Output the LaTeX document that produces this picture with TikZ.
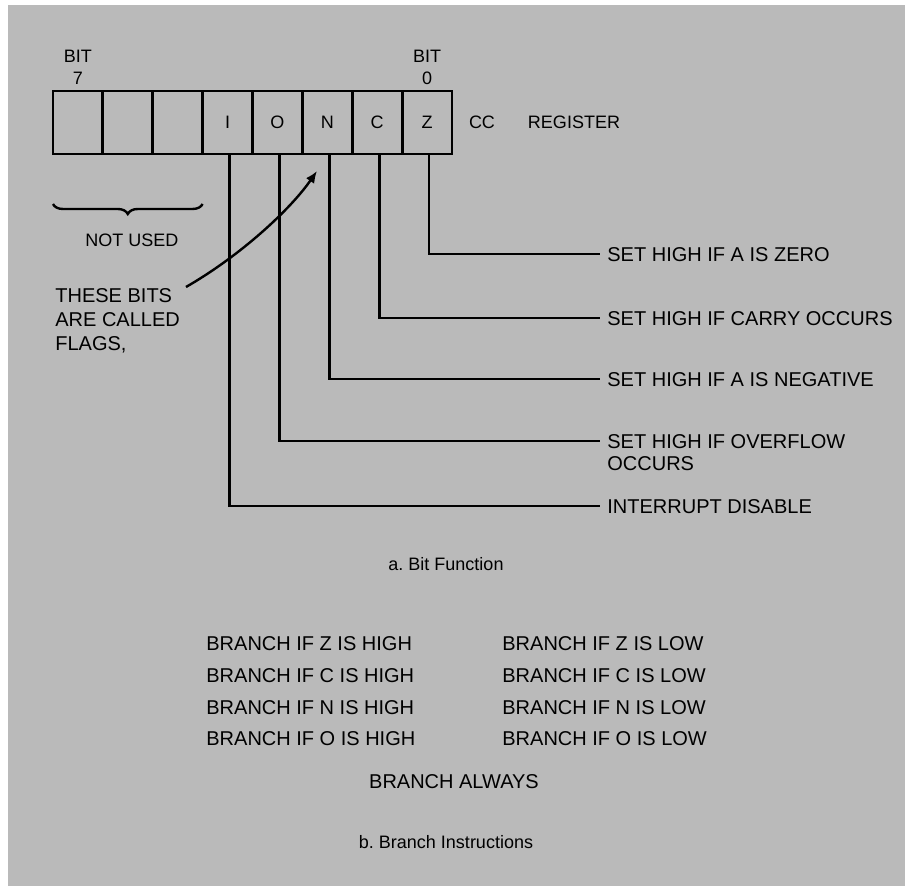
\documentclass[tikz,border=0pt]{standalone}
\usepackage{fontspec}
\setmainfont{Liberation Sans}
\usepackage{tikz}
\usetikzlibrary{arrows.meta,positioning,decorations.pathreplacing}
\usepackage{xcolor}
\definecolor{paper}{gray}{0.73}

\begin{document}
\begin{tikzpicture}[
  x=0.5pt,y=-0.5pt,
  cell/.style={draw,line width=1.4pt,minimum width=24.94pt,minimum height=31.5pt,inner sep=0pt,outer sep=0pt,font=\small},
  small/.style={font=\small,inner sep=2pt},
  lbl/.style={anchor=west,inner sep=3.5pt,text height=7.2pt,text depth=0pt},
  flag/.style={line width=1.4pt},
  brc/.style={decorate,decoration={brace,mirror,amplitude=5pt},line width=1.2pt},
  arr/.style={-{Latex[length=6pt,width=5pt]},line width=1.2pt}
]
\useasboundingbox (0,0) rectangle (907,886);
\fill[paper] (8,5) rectangle (905,886);

% the CC register
\node[cell] (c7) at (77.9,122.5) {};
\node[cell,right=0pt of c7] (c6) {};
\node[cell,right=0pt of c6] (c5) {};
\node[cell,right=0pt of c5] (cI) {I};
\node[cell,right=0pt of cI] (cO) {O};
\node[cell,right=0pt of cO] (cN) {N};
\node[cell,right=0pt of cN] (cC) {C};
\node[cell,right=0pt of cC] (cZ) {Z};
\node[small,align=center,above=1pt of c7] (bit7) {BIT\\7};
\node[small,align=center,above=1pt of cZ] (bit0) {BIT\\0};
\node[small] (cc) at (482,122) {CC};
\node[small] (reg) at (574,122) {REGISTER};

% unused bits
\draw[brc] ([yshift=-25pt]c7.south west) -- ([yshift=-25pt]c5.south east);
\node[small] (unused) at (132,240) {NOT USED};

% flag labels
\node[lbl] (zero) at (600,254) {SET HIGH IF A IS ZERO};
\node[lbl] (carry) at (600,318) {SET HIGH IF CARRY OCCURS};
\node[lbl] (neg) at (600,379) {SET HIGH IF A IS NEGATIVE};
\node[lbl] (ovf) at (600,441) {SET HIGH IF OVERFLOW};
\node[lbl] (ovfb) at (600,463) {OCCURS};
\node[lbl] (irq) at (600,506) {INTERRUPT DISABLE};
\draw[flag] ([xshift=1pt]cZ.south) |- (zero.west);
\draw[flag] ([xshift=1pt]cC.south) |- (carry.west);
\draw[flag] ([xshift=1pt]cN.south) |- (neg.west);
\draw[flag] ([xshift=1pt]cO.south) |- (ovf.west);
\draw[flag] ([xshift=1pt]cI.south) |- (irq.west);

% note with arrow
\node[align=left,anchor=north west,inner sep=0pt] (flags) at (55,288) {THESE BITS\\ARE CALLED\\FLAGS,};
\coordinate (ftail) at (186,287);
\coordinate (ftip) at (317,171);
\draw[arr] (ftail) .. controls (240,256) and (290,210) .. (ftip);

\node[small] (capa) at (446,564) {a.\ Bit Function};

% branch instructions
\node[lbl] (bzh) at (199,643) {BRANCH IF Z IS HIGH};
\node[lbl] (bch) at (199,675) {BRANCH IF C IS HIGH};
\node[lbl] (bnh) at (199,707) {BRANCH IF N IS HIGH};
\node[lbl] (boh) at (199,738) {BRANCH IF O IS HIGH};
\node[lbl] (bzl) at (495,643) {BRANCH IF Z IS LOW};
\node[lbl] (bcl) at (495,675) {BRANCH IF C IS LOW};
\node[lbl] (bnl) at (495,707) {BRANCH IF N IS LOW};
\node[lbl] (bol) at (495,738) {BRANCH IF O IS LOW};
\node (always) at (454,782) {BRANCH ALWAYS};

\node[small] (capb) at (446,842) {b.\ Branch Instructions};
\end{tikzpicture}
\end{document}
